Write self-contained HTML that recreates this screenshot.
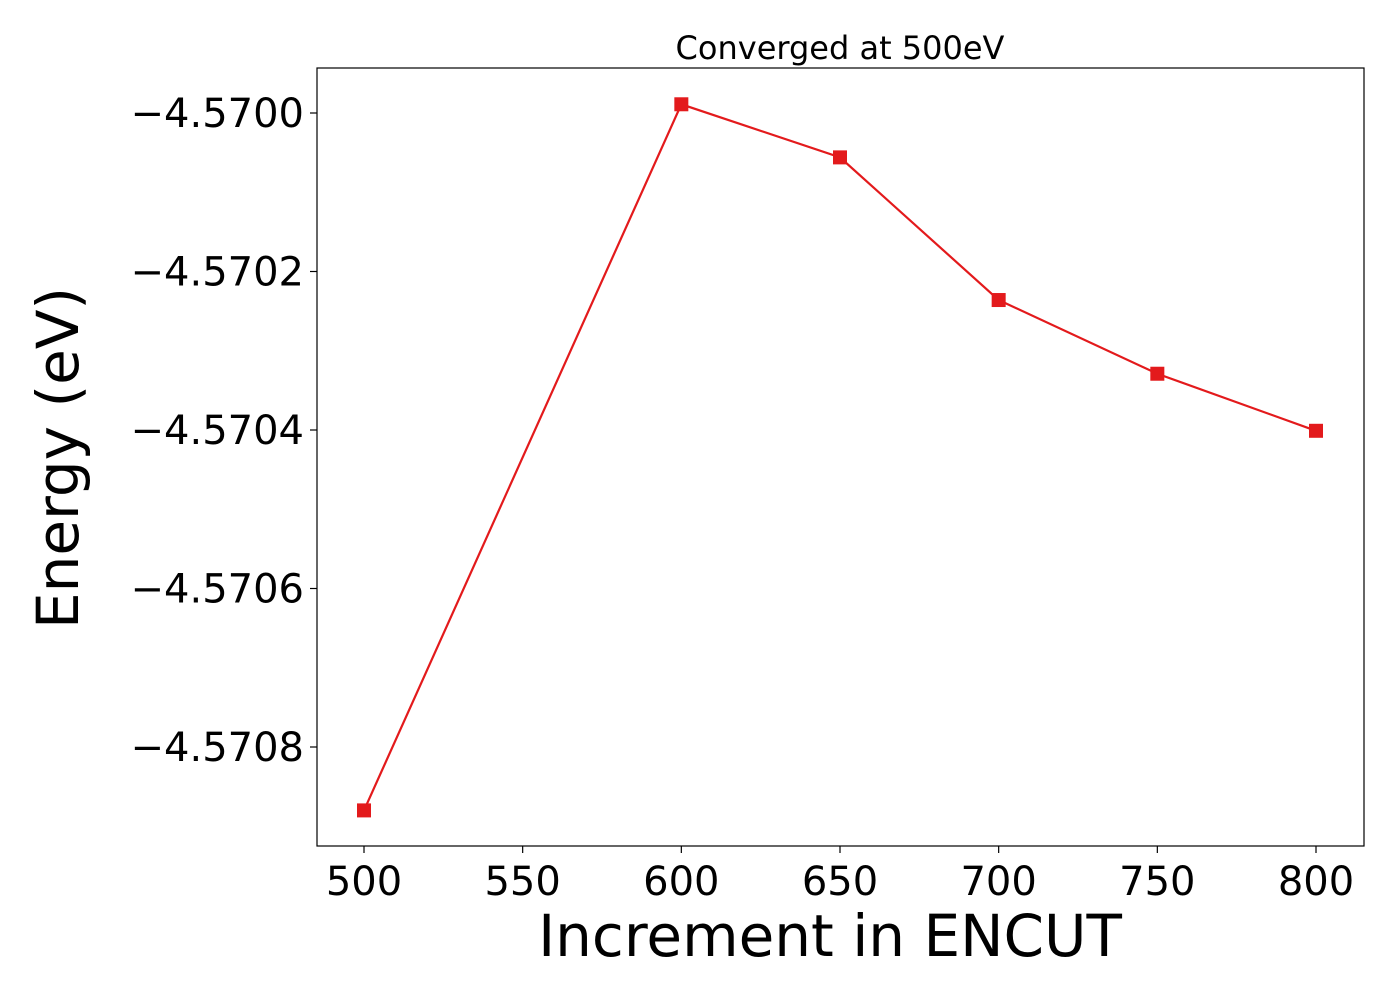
<!DOCTYPE html>
<html><head><meta charset="utf-8"><style>
html,body{margin:0;padding:0;background:#fff;}
svg text{font-family:"DejaVu Sans","Liberation Sans",sans-serif;fill:#000;}
</style></head><body>
<svg id="chart" width="1400" height="1000" xmlns="http://www.w3.org/2000/svg">
<rect x="0" y="0" width="1400" height="1000" fill="#fff"/>
<text x="840" y="59" font-size="32" text-anchor="middle">Converged at 500eV</text>
<g id="xticks"></g>
<g id="yticks"></g>
<g id="series"></g>
<rect x="317" y="68" width="1047" height="778" fill="none" stroke="#000" stroke-width="1.2"/>
<text x="830" y="956" font-size="58" text-anchor="middle">Increment in ENCUT</text>
<text transform="translate(78,458) rotate(-90)" font-size="58" text-anchor="middle">Energy (eV)</text>
</svg>
<script>
const categories = [500, 600, 650, 700, 750, 800];
const energies = [-4.57088, -4.569989, -4.570056, -4.570236, -4.570329, -4.570401];
const xTicks = [500, 550, 600, 650, 700, 750, 800];
const yTicks = [-4.5700, -4.5702, -4.5704, -4.5706, -4.5708];
const yTickLabels = ["\u22124.5700", "\u22124.5702", "\u22124.5704", "\u22124.5706", "\u22124.5708"];

const NS = "http://www.w3.org/2000/svg";
function xs(v){ return 364 + (v - 500) * (1316 - 364) / 300; }
function ys(v){ return 113 + (-4.5700 - v) * (747 - 113) / 0.0008; }
function mk(tag, attrs, parent){ const e = document.createElementNS(NS, tag); for (const k in attrs) e.setAttribute(k, attrs[k]); parent.appendChild(e); return e; }

const gx = document.getElementById('xticks');
xTicks.forEach(t => {
  const x = xs(t);
  const l = mk('line', {x1:x, x2:x, y1:846, y2:853, stroke:'#000', 'stroke-width':1.2}, gx);
  
  
  const tx = mk('text', {x:x, y:895, 'font-size':40, 'text-anchor':'middle'}, gx);
  tx.textContent = t;
  
  
});
const gy = document.getElementById('yticks');
yTicks.forEach((t, i) => {
  const y = ys(t);
  const l = mk('line', {x1:310, x2:317, y1:y, y2:y, stroke:'#000', 'stroke-width':1.2}, gy);
  
  
  const tx = mk('text', {x:304, y:y + 14, 'font-size':40, 'text-anchor':'end'}, gy);
  tx.textContent = yTickLabels[i];
  
  
});
const gs = document.getElementById('series');
const pts = categories.map((c, i) => xs(c) + ',' + ys(energies[i])).join(' ');
const pl = mk('polyline', {points:pts, fill:'none', stroke:'#e31a1c', 'stroke-width':2.2}, gs);


categories.forEach((c, i) => {
  const r = mk('rect', {x:xs(c) - 7, y:ys(energies[i]) - 7, width:14, height:14, fill:'#e31a1c'}, gs);
  
  
});
</script>
</body></html>
